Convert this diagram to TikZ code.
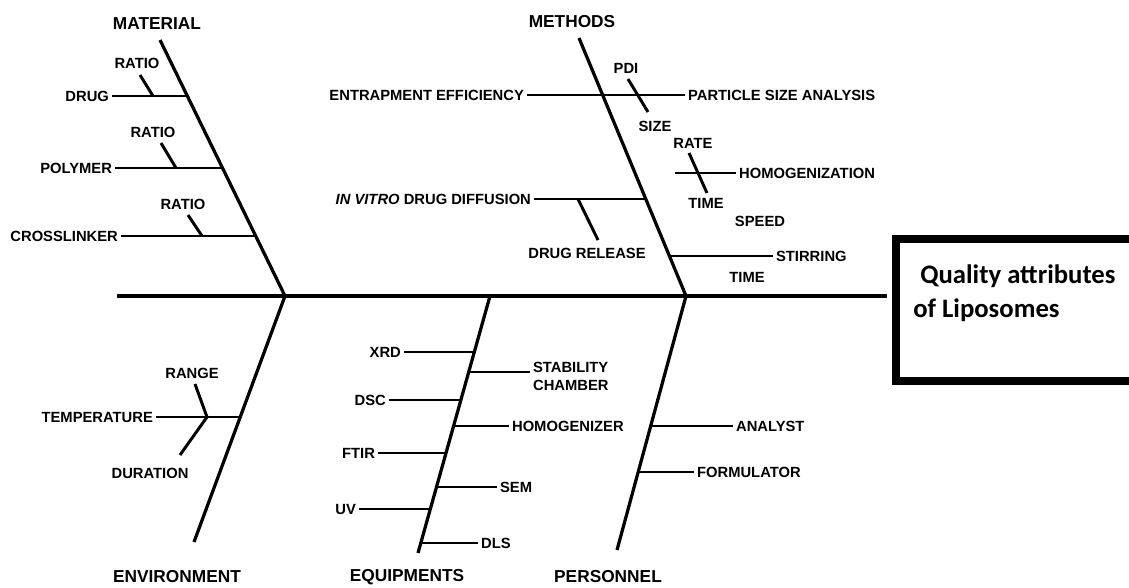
\documentclass[tikz,border=0pt]{standalone}
\usepackage{fontspec}
\setsansfont{Liberation Sans}
\newfontfamily\boxfont{Carlito}
\usetikzlibrary{calc}

\begin{document}
\begin{tikzpicture}[
    x=0.025cm, y=-0.025cm,
    bone/.style={line width=2.3pt},
    twig/.style={line width=2.1pt},
    heading/.style={font=\sffamily\bfseries\fontsize{12.3}{14}\selectfont, inner sep=1pt},
    cause/.style={font=\sffamily\bfseries\fontsize{10.5}{12.8}\selectfont, inner sep=2pt},
    qbox/.style={draw, line width=5.7pt, inner sep=0pt, outer sep=0pt,
        minimum width=6.3cm, minimum height=3.55cm},
    qtext/.style={font=\boxfont\bfseries\fontsize{19}{23}\selectfont, inner sep=0pt}
]
    \useasboundingbox (0,0) rectangle (1129,587);

    % effect
    \node[qbox, anchor=west] (qa) at (896,310) {};
    \node[qtext, anchor=base west] (qa line1) at (920,283) {Quality attributes};
    \node[qtext, anchor=base west] (qa line2) at (913,317) {of Liposomes};

    % spine
    \coordinate (tail) at (117,296);
    \draw[bone, shorten >=0.22cm]
        (tail) --
        (qa.west |- tail);

    % material
    \coordinate (mat top) at (160,40);
    \coordinate (mat foot) at (285,296);
    \draw[bone]
        (mat top) --
        (mat foot);
    \node[heading] (material) at (157,24) {MATERIAL};

    \node[cause, anchor=east] (drug) at (112,96) {DRUG};
    \coordinate (drug end) at (187.3,96);
    \draw[twig] (drug.east) -- (drug end);
    \node[cause] (drug ratio) at (137,63) {RATIO};
    \coordinate (drug ratio top) at (140,75);
    \coordinate (drug ratio foot) at (153,96);
    \draw[twig] (drug ratio top) -- (drug ratio foot);

    \node[cause, anchor=east] (polymer) at (115,168) {POLYMER};
    \coordinate (polymer end) at (222.5,168);
    \draw[twig] (polymer.east) -- (polymer end);
    \node[cause] (polymer ratio) at (153,132) {RATIO};
    \coordinate (polymer ratio top) at (161,143);
    \coordinate (polymer ratio foot) at (176,168);
    \draw[twig] (polymer ratio top) -- (polymer ratio foot);

    \node[cause, anchor=east] (crosslinker) at (121,236) {CROSSLINKER};
    \coordinate (crosslinker end) at (255.7,236);
    \draw[twig] (crosslinker.east) -- (crosslinker end);
    \node[cause] (crosslinker ratio) at (183,204) {RATIO};
    \coordinate (crosslinker ratio top) at (188,215);
    \coordinate (crosslinker ratio foot) at (202,236);
    \draw[twig] (crosslinker ratio top) -- (crosslinker ratio foot);

    % methods
    \coordinate (met top) at (579,38);
    \coordinate (met foot) at (686,296);
    \draw[bone]
        (met top) --
        (met foot);
    \node[heading] (methods) at (572,22) {METHODS};

    \node[cause, anchor=east] (entrapment) at (527,95) {ENTRAPMENT EFFICIENCY};
    \node[cause, anchor=west] (particle) at (685,95) {PARTICLE SIZE ANALYSIS};
    \draw[twig] (entrapment.east) -- (particle.west);
    \node[cause] (pdi) at (626,68) {PDI};
    \node[cause] (size) at (655,126) {SIZE};
    \coordinate (pdi top) at (628,79);
    \coordinate (size foot) at (648,112);
    \draw[twig] (pdi top) -- (size foot);

    \coordinate (homog start) at (675,173);
    \node[cause, anchor=west] (homogenization) at (736,173) {HOMOGENIZATION};
    \draw[twig] (homog start) -- (homogenization.west);
    \node[cause] (rate) at (693,143) {RATE};
    \node[cause] (homog time) at (706,203) {TIME};
    \coordinate (rate top) at (689,153);
    \coordinate (time foot) at (707,193);
    \draw[twig] (rate top) -- (time foot);

    \node[cause, anchor=east] (diffusion) at (534,199) {\textit{IN VITRO} DRUG DIFFUSION};
    \coordinate (diffusion end) at (645.8,199);
    \draw[twig] (diffusion.east) -- (diffusion end);
    \node[cause] (release) at (587,253) {DRUG RELEASE};
    \coordinate (release top) at (578,199);
    \coordinate (release foot) at (598,240);
    \draw[twig] (release top) -- (release foot);

    \coordinate (stirring start) at (669.4,256);
    \node[cause, anchor=west] (stirring) at (773,256) {STIRRING};
    \draw[twig] (stirring start) -- (stirring.west);
    \node[cause] (speed) at (760,221) {SPEED};
    \node[cause] (stirring time) at (747,277) {TIME};

    % environment
    \coordinate (env top) at (285,296);
    \coordinate (env foot) at (194,542);
    \draw[bone]
        (env top) --
        (env foot);
    \node[heading] (environment) at (177,577) {ENVIRONMENT};

    \node[cause, anchor=east] (temperature) at (156,417) {TEMPERATURE};
    \coordinate (temperature end) at (240.2,417);
    \draw[twig] (temperature.east) -- (temperature end);
    \node[cause] (range) at (192,373) {RANGE};
    \node[cause] (duration) at (150,473) {DURATION};
    \coordinate (range top) at (195,384);
    \coordinate (range foot) at (207,417);
    \coordinate (duration foot) at (180,455);
    \draw[twig] (range top) -- (range foot);
    \draw[twig] (range foot) -- (duration foot);

    % equipments
    \coordinate (equ top) at (490,296);
    \coordinate (equ foot) at (418,553);
    \draw[bone]
        (equ top) --
        (equ foot);
    \node[heading] (equipments) at (407,577) {EQUIPMENTS};

    \node[cause, anchor=east] (xrd) at (404,352) {XRD};
    \coordinate (xrd end) at (474.3,352);
    \draw[twig] (xrd.east) -- (xrd end);
    \node[cause, anchor=east] (dsc) at (389,400) {DSC};
    \coordinate (dsc end) at (460.9,400);
    \draw[twig] (dsc.east) -- (dsc end);
    \node[cause, anchor=east] (ftir) at (378,453) {FTIR};
    \coordinate (ftir end) at (446,453);
    \draw[twig] (ftir.east) -- (ftir end);
    \node[cause, anchor=east] (uv) at (359,509) {UV};
    \coordinate (uv end) at (430.3,509);
    \draw[twig] (uv.east) -- (uv end);

    \coordinate (stability start) at (468.7,372);
    \node[cause, anchor=west, align=left] (stability) at (530,376) {STABILITY\\CHAMBER};
    \draw[twig] (stability start) -- (stability start -| stability.west);
    \coordinate (homogenizer start) at (453.6,426);
    \node[cause, anchor=west] (homogenizer) at (509,426) {HOMOGENIZER};
    \draw[twig] (homogenizer start) -- (homogenizer.west);
    \coordinate (sem start) at (436.5,487);
    \node[cause, anchor=west] (sem) at (497,487) {SEM};
    \draw[twig] (sem start) -- (sem.west);
    \coordinate (dls start) at (420.8,543);
    \node[cause, anchor=west] (dls) at (478,543) {DLS};
    \draw[twig] (dls start) -- (dls.west);

    % personnel
    \coordinate (per top) at (686,296);
    \coordinate (per foot) at (617,550);
    \draw[bone]
        (per top) --
        (per foot);
    \node[heading] (personnel) at (608,577) {PERSONNEL};

    \coordinate (analyst start) at (650.7,426);
    \node[cause, anchor=west] (analyst) at (733,426) {ANALYST};
    \draw[twig] (analyst start) -- (analyst.west);
    \coordinate (formulator start) at (638.2,472);
    \node[cause, anchor=west] (formulator) at (694,472) {FORMULATOR};
    \draw[twig] (formulator start) -- (formulator.west);

\end{tikzpicture}
\end{document}
